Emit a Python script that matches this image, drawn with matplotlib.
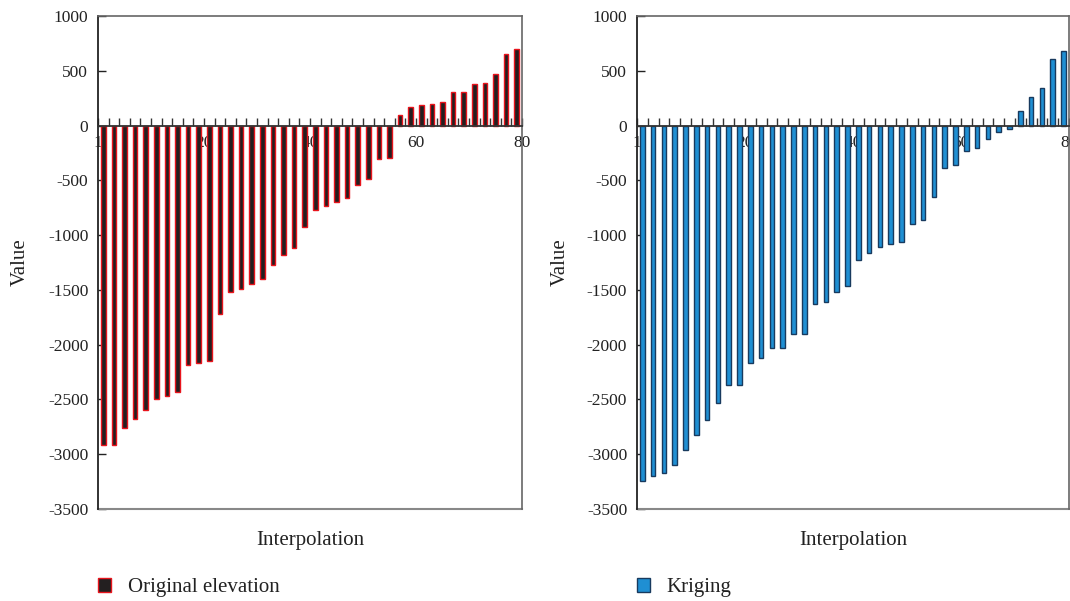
import numpy as np
import matplotlib.pyplot as plt
from matplotlib.ticker import FixedLocator, FuncFormatter

plt.rcParams['font.family'] = ['Liberation Serif', 'DejaVu Serif']
plt.rcParams['axes.unicode_minus'] = False

# Interpolation points (one bar every second position)
positions = np.arange(1, 80, 2)

original_elevation = [
    -2917, -2917, -2765, -2683, -2598, -2494, -2470, -2433, -2187, -2163,
    -2151, -1723, -1522, -1489, -1449, -1397, -1270, -1179, -1118, -924,
    -772, -732, -702, -665, -541, -492, -301, -292, 97, 167,
    185, 194, 219, 304, 307, 380, 389, 468, 650, 696,
]

kriging = [
    -3245, -3196, -3175, -3099, -2959, -2828, -2692, -2534, -2370, -2364,
    -2172, -2124, -2035, -2026, -1905, -1899, -1625, -1613, -1522, -1464,
    -1224, -1161, -1112, -1079, -1066, -899, -860, -656, -386, -362,
    -228, -203, -125, -58, -33, 137, 264, 343, 608, 677,
]

xtick_pos = [0, 20, 40, 60, 80]
xtick_labels = ['1', '20', '40', '60', '80']
yticks = [1000, 500, 0, -500, -1000, -1500, -2000, -2500, -3000, -3500]

fig = plt.figure(figsize=(10.7, 6.01), dpi=100)
ax1 = fig.add_axes([0.0916, 0.1531, 0.3963, 0.8203])
ax2 = fig.add_axes([0.5953, 0.1531, 0.4037, 0.8203])


def draw_panel(ax, values, face, edge, label, ylabel_x):
    ax.bar(positions, values, width=0.85, color=face, edgecolor=edge,
           linewidth=1.0, label=label, zorder=2)

    ax.set_xlim(0, 80)
    ax.set_ylim(-3500, 1000)

    # x axis runs along the zero line, frame kept at the bottom
    ax.spines['bottom'].set_position(('data', 0))
    ax.spines['bottom'].set_color('#333333')
    ax.spines['bottom'].set_linewidth(1.3)
    ax.spines['bottom'].set_zorder(3)
    ax.axhline(-3500, color='#888888', linewidth=1.5, clip_on=False)
    for side in ('top', 'right'):
        ax.spines[side].set_color('#666666')
        ax.spines[side].set_linewidth(1.2)
    ax.spines['left'].set_color('#222222')
    ax.spines['left'].set_linewidth(1.3)

    ax.xaxis.set_major_locator(FixedLocator(xtick_pos))
    ax.xaxis.set_minor_locator(FixedLocator(np.arange(2, 81, 2)))
    ax.set_xticklabels(xtick_labels)
    ax.tick_params(axis='x', which='both', direction='in', length=5.5,
                   width=1.0, color='#333333', labelsize=12.5, pad=7,
                   labelcolor='#222222')

    ax.set_yticks(yticks)
    ax.yaxis.set_major_formatter(FuncFormatter(lambda v, p: f'{int(v)}'))
    ax.tick_params(axis='y', direction='in', length=6, width=1.0,
                   color='#222222', labelsize=12.5, pad=7,
                   labelcolor='#222222')

    ax.set_xlabel('Interpolation', fontsize=15, color='#222222')
    ax.xaxis.set_label_coords(0.5, -0.044)
    ax.set_ylabel('Value', fontsize=15, color='#222222')
    ax.yaxis.set_label_coords(ylabel_x, 0.5)

    ax.legend(loc='upper left', bbox_to_anchor=(0.0, -0.14), frameon=False,
              fontsize=15, handlelength=0.62, handleheight=0.62,
              handletextpad=0.8, borderpad=0, borderaxespad=0,
              labelcolor='#222222')


draw_panel(ax1, original_elevation, '#231f20', '#e8141c', 'Original elevation', -0.16)
draw_panel(ax2, kriging, '#1f8fd3', '#183a5e', 'Kriging', -0.155)

fig.savefig('out.png', dpi=100)
